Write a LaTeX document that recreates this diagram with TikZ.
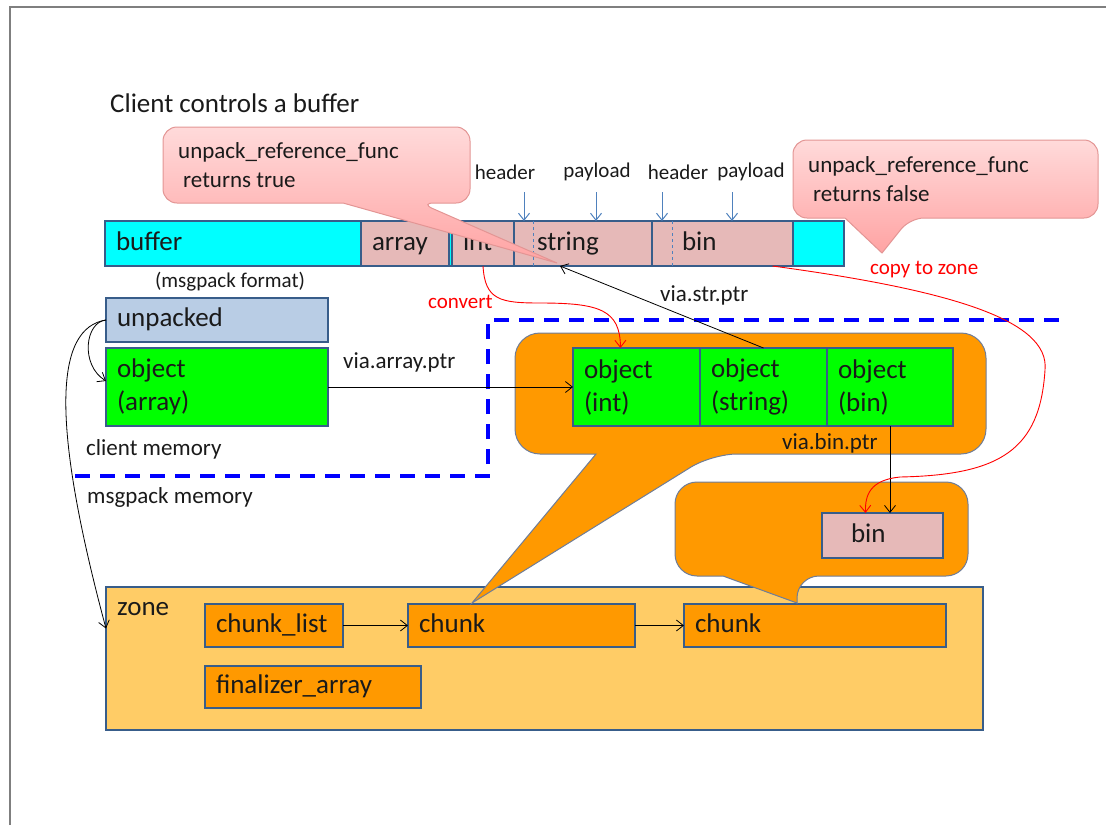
\documentclass[tikz,border=0pt]{standalone}
\usepackage{fontspec}
\setmainfont{Carlito}
\usetikzlibrary{arrows.meta}
\definecolor{bufcyan}{HTML}{00FFFF}
\definecolor{segpink}{HTML}{E6B9B8}
\definecolor{boxline}{HTML}{385D8A}
\definecolor{unpackblue}{HTML}{B9CDE5}
\definecolor{objgreen}{HTML}{00FF00}
\definecolor{chunkorange}{HTML}{FF9900}
\definecolor{zonefill}{HTML}{FFCC66}
\definecolor{calloutline}{HTML}{6E7D99}
\definecolor{notetop}{HTML}{FFDADA}
\definecolor{notebottom}{HTML}{FFA3A3}
\definecolor{noteline}{HTML}{E39594}
\definecolor{hdrblue}{HTML}{4F81BD}
\definecolor{memblue}{HTML}{0000FF}
\definecolor{framegray}{HTML}{7F7F7F}
\definecolor{inktext}{HTML}{1A1A1A}
\newcommand\bigtxt{\fontsize{27}{33}\selectfont}
\newcommand\midtxt{\fontsize{23}{29}\selectfont}
\newcommand\smalltxt{\fontsize{21}{25}\selectfont}
\begin{document}
\begin{tikzpicture}[x=1pt,y=-1pt,text=inktext,
  seg/.style={draw=boxline,line width=1.2pt,anchor=north west,minimum height=45pt,inner ysep=0pt,inner xsep=11pt,outer sep=0pt,align=left,text height=18pt,text depth=5pt,font=\bigtxt},
  obj/.style={draw=boxline,line width=1.2pt,anchor=north west,fill=objgreen,minimum height=78pt,inner ysep=0pt,inner xsep=11pt,outer sep=0pt,align=left,font=\bigtxt},
  lbl/.style={inner sep=0pt,anchor=west,font=\midtxt},
  note/.style={inner sep=0pt,font=\smalltxt},
  pinknote/.style={draw=noteline,line width=1pt,top color=notetop,bottom color=notebottom},
  orangenote/.style={draw=calloutline,line width=1pt,fill=chunkorange},
  ptr/.style={-{Straight Barb[length=7pt,width=11pt]},line width=0.8pt},
  redptr/.style={-{Straight Barb[length=7pt,width=11pt]},line width=0.9pt,red}]
\useasboundingbox (0,0) rectangle (1106,825);
\draw[framegray,line width=2pt] (10,825) -- (10,7) -- (1106,7);

\node[lbl,font=\bigtxt] (title) at (110,103) {Client controls a buffer};

\node[seg,fill=bufcyan,text width=234pt] (bufseg) at (105,221) {buffer};
\node[seg,fill=segpink,text width=66pt] (arrseg) at (361,221) {array};
\node[seg,fill=bufcyan,minimum width=3pt,inner xsep=0pt] (gapseg) at (449,221) {};
\node[seg,fill=segpink,text width=40pt] (intseg) at (452,221) {int};
\node[seg,fill=segpink,text width=92pt,inner xsep=23pt] (strseg) at (514,221) {string};
\node[seg,fill=segpink,text width=81pt,inner xsep=30pt] (binseg) at (652,221) {bin};
\node[seg,fill=bufcyan,minimum width=51pt,inner xsep=0pt] (endseg) at (793,221) {};
\draw[hdrblue,dashed] ([xshift=19pt]strseg.north west) -- ([xshift=19pt]strseg.south west);
\draw[hdrblue,dashed] ([xshift=20pt]binseg.north west) -- ([xshift=20pt]binseg.south west);

\node[note] (hdra) at (505,172) {header};
\node[note] (pla) at (597,172) {payload};
\node[note] (hdrb) at (678,172) {header};
\node[note] (plb) at (751,172) {payload};
\draw[ptr,hdrblue,line width=1pt] ([xshift=10pt,yshift=29pt]strseg.north west) -- ([xshift=10pt]strseg.north west);
\draw[ptr,hdrblue,line width=1pt] ([xshift=82pt,yshift=29pt]strseg.north west) -- ([xshift=82pt]strseg.north west);
\draw[ptr,hdrblue,line width=1pt] ([xshift=10pt,yshift=29pt]binseg.north west) -- ([xshift=10pt]binseg.north west);
\draw[ptr,hdrblue,line width=1pt] ([xshift=80pt,yshift=29pt]binseg.north west) -- ([xshift=80pt]binseg.north west);

\draw[pinknote] (300,127) [rounded corners=14pt] -- (470,127) -- (470,203) -- (420,203) [sharp corners] -- (557,263) -- (343,203) [rounded corners=14pt] -- (163,203) -- (163,127) -- cycle;
\node[lbl,anchor=base west,align=left] (truetxt) at (178,187) {unpack\_reference\_func\\\hspace{5pt}returns true};
\draw[pinknote] (950,140) [rounded corners=14pt] -- (1098,140) -- (1098,218) -- (910,218) [sharp corners] -- (882,253) -- (845,218) [rounded corners=14pt] -- (793,218) -- (793,140) -- cycle;
\node[lbl,anchor=base west,align=left] (falsetxt) at (808,201) {unpack\_reference\_func\\\hspace{5pt}returns false};

\node[note] (fmt) at (230,282) {(msgpack format)};
\node[seg,fill=unpackblue,text width=200pt,minimum height=44pt] (unpacked) at (106,298) {unpacked};
\node[obj,text width=200pt] (objarr) at (106,348) {object\\(array)};

\draw[memblue,line width=4pt,dash pattern=on 15pt off 10pt] (75,476) -- (488,476) -- (488,320) -- (1060,320);
\node[lbl] (clientmem) at (86,449) {client memory};
\node[lbl] (msgmem) at (87,497) {msgpack memory};

\node[draw=boxline,line width=1.2pt,fill=zonefill,anchor=north west,minimum width=877pt,minimum height=143pt,inner sep=0pt,outer sep=0pt] (zone) at (106,587) {};
\node[lbl,font=\bigtxt] (zonetxt) at (117,609) {zone};
\node[seg,fill=chunkorange,text width=116pt,minimum height=43pt] (chunklist) at (205,604) {chunk\_list};
\node[seg,fill=chunkorange,text width=205pt,minimum height=43pt] (chunka) at (408,604) {chunk};
\node[seg,fill=chunkorange,text width=240pt,minimum height=43pt] (chunkb) at (684,604) {chunk};
\node[seg,fill=chunkorange,text width=194pt,minimum height=42pt] (finarr) at (205,666) {finalizer\_array};

\draw[orangenote] (750,333) [rounded corners=25pt] -- (986,333) -- (986,454) -- (712,454) [sharp corners] -- (472,603) -- (596,454) [rounded corners=25pt] -- (515,454) -- (515,333) -- cycle;
\draw[orangenote] (820,482) [rounded corners=22pt] -- (968,482) -- (968,576) -- (797,576) [sharp corners] -- (797,603) -- (723,576) [rounded corners=22pt] -- (675,576) -- (675,482) -- cycle;

\node[obj,text width=105pt] (objint) at (573,348) {object\\(int)};
\node[obj,text width=105pt] (objstr) at (700,348) {object\\(string)};
\node[obj,text width=104pt] (objbin) at (827,348) {object\\(bin)};
\node[seg,fill=segpink,text width=63pt,inner xsep=29pt] (binbox) at (822,513) {bin};

\node[lbl] (arrptr) at (343,362) {via.array.ptr};
\node[lbl] (strptr) at (660,295) {via.str.ptr};
\node[lbl] (binptr) at (782,443) {via.bin.ptr};
\node[note,red,anchor=west] (convtxt) at (428,302) {convert};
\node[note,red,anchor=west] (copytxt) at (870,270) {copy to zone};

\draw[ptr] (objarr.east) -- (objint.west);
\draw[ptr] (objbin.south) -- (objbin.south |- binbox.north);
\draw[ptr] (objstr.north) -- ([xshift=-23pt]strseg.south);
\draw[ptr] (chunklist.east) -- (chunka.west);
\draw[ptr] (chunka.east) -- (chunkb.west);
\draw[ptr] (unpacked.west) .. controls (85,322) and (80,365) .. ([yshift=6pt]objarr.west);
\draw[ptr] (unpacked.west) .. controls (55,328) and (50,420) .. ([yshift=30pt]zone.west);
\draw[redptr] (intseg.south) .. controls (485,300) and (500,303) .. (540,303) .. controls (600,303) and (620,310) .. ([xshift=-16pt]objint.north);
\draw[redptr] ([xshift=50pt]binseg.south) .. controls (950,290) and (1050,320) .. (1045,370) .. controls (1040,450) and (1000,475) .. (900,477) .. controls (870,480) and (865,495) .. ([xshift=-17pt]binbox.north);
\end{tikzpicture}
\end{document}
